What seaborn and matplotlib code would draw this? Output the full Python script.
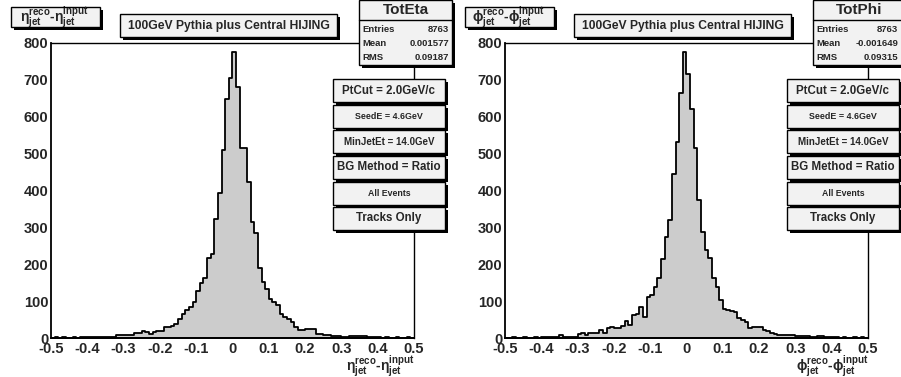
import numpy as np
import pandas as pd
import matplotlib
matplotlib.use("Agg")
import matplotlib.pyplot as plt
import seaborn as sns
from matplotlib.patches import Rectangle

# ---------------- data ----------------
n_bins = 100
x_range = (-0.5, 0.5)

eta_counts = [1, 2, 1, 2, 1, 1, 2, 1, 2, 2,
              3, 4, 4,
              3, 3, 3, 3, 3,
              7, 7, 7, 7, 7,
              13, 13, 19, 16, 12, 16, 19, 20, 29, 31, 32, 39, 52,
              64, 76, 85, 98, 128, 150, 162, 216, 229, 324, 392, 509, 647, 704, 775,
              681, 515, 515, 424, 315, 284, 189, 153, 132, 107, 98, 89, 64, 58, 51,
              44, 31, 22, 22, 24, 24, 24, 11, 11, 9, 9, 5, 5, 5, 4, 4, 5, 5, 5, 5, 5, 4, 4, 2,
              2, 1, 2, 1, 1, 2, 1, 1, 2, 1]

phi_counts = [1, 1, 2, 1, 1, 2, 1, 1, 2, 1,
              3, 3, 4, 4, 4, 7, 4, 4, 4, 4, 10, 13, 8, 14, 13, 13, 23, 14, 26, 29, 28, 28, 33, 46, 34, 62,
              64, 84, 58, 112, 117, 139, 162, 213, 275, 320, 446, 532, 665, 775, 717,
              622, 514, 374, 288, 238, 216, 162, 139, 103, 80, 76, 74, 71, 55, 50,
              44, 26, 29, 29, 31, 22, 19, 13, 10, 8, 8, 8, 8, 7, 5, 5, 5, 5, 3, 3, 5, 5, 3, 3, 3,
              2, 1, 2, 1, 1, 2, 1, 2, 1]

x_ticks = [-0.5, -0.4, -0.3, -0.2, -0.1, 0, 0.1, 0.2, 0.3, 0.4, 0.5]
x_tick_labels = ["-0.5", "-0.4", "-0.3", "-0.2", "-0.1", "0", "0.1", "0.2", "0.3", "0.4", "0.5"]
y_ticks = [0, 100, 200, 300, 400, 500, 600, 700, 800]

title_text = "100GeV Pythia plus Central HIJING"
eta_label = r"$\eta^{reco}_{jet}$-$\eta^{input}_{jet}$"
phi_label = r"$\phi^{reco}_{jet}$-$\phi^{input}_{jet}$"
stat_names = ["TotEta", "TotPhi"]
stat_entries = ["8763", "8763"]
stat_means = ["0.001577", "-0.001649"]
stat_rms = ["0.09187", "0.09315"]
cut_texts = ["PtCut = 2.0GeV/c", "SeedE = 4.6GeV", "MinJetEt = 14.0GeV",
             "BG Method = Ratio", "All Events", "Tracks Only"]

# ---------------- style ----------------
sns.set_style("white")
plt.rcParams["font.family"] = ["Liberation Sans", "DejaVu Sans"]
plt.rcParams["font.weight"] = "bold"
plt.rcParams["mathtext.fontset"] = "custom"
plt.rcParams["mathtext.rm"] = "Liberation Sans:bold"
plt.rcParams["mathtext.it"] = "Liberation Sans:bold"
plt.rcParams["mathtext.bf"] = "Liberation Sans:bold"
plt.rcParams["mathtext.default"] = "bf"

W, H = 901, 377
fig = plt.figure(figsize=(W / 100, H / 100), dpi=100)
fig.patch.set_facecolor("white")


def fx(x):
    return x / W


def fy(y):
    return 1 - y / H


def pave(x0, y0, x1, y1, shadow=3, fc="#f2f2f2"):
    fig.add_artist(Rectangle((fx(x0 + shadow), fy(y1 + shadow)), (x1 - x0) / W, (y1 - y0) / H,
                             transform=fig.transFigure, fc="black", ec="none", zorder=5))
    fig.add_artist(Rectangle((fx(x0), fy(y1)), (x1 - x0) / W, (y1 - y0) / H,
                             transform=fig.transFigure, fc=fc, ec="black", lw=1, zorder=6))


def ftext(x, y, s, size, ha="center", va="center"):
    fig.text(fx(x), fy(y), s, fontsize=size, fontweight="bold", ha=ha, va=va, zorder=7)


bin_width = (x_range[1] - x_range[0]) / n_bins
centers = x_range[0] + bin_width * (np.arange(n_bins) + 0.5)

panels = [
    dict(counts=eta_counts, label=eta_label, off=0, stat=0, val_x=449),
    dict(counts=phi_counts, label=phi_label, off=454, stat=1, val_x=898),
]

for p in panels:
    off = p["off"]
    ax_l, ax_r, ax_t, ax_b = 51 + off, 414 + off, 43, 338
    ax = fig.add_axes([fx(ax_l), fy(ax_b), (ax_r - ax_l) / W, (ax_b - ax_t) / H])
    df = pd.DataFrame({"x": centers, "w": np.asarray(p["counts"], dtype=float)})
    sns.histplot(data=df, x="x", weights="w", bins=n_bins, binrange=x_range,
                 element="step", fill=True,
                 color="#cccccc", edgecolor="black", linewidth=1.3, alpha=1, ax=ax)
    ax.set_xlim(*x_range)
    ax.set_ylim(0, 800)
    ax.set_xlabel("")
    ax.set_ylabel("")
    ax.set_xticks(x_ticks)
    ax.set_xticklabels(x_tick_labels)
    ax.set_yticks(y_ticks)
    ax.set_xticks(np.arange(-0.5, 0.501, 0.02), minor=True)
    ax.set_yticks(np.arange(0, 801, 20), minor=True)
    ax.tick_params(axis="both", which="major", direction="in", length=7.5, width=1,
                   labelsize=10.5, pad=2, top=False, right=False)
    ax.tick_params(axis="both", which="minor", direction="in", length=3.8, width=1,
                   top=False, right=False)
    ax.tick_params(axis="x", which="major", pad=3)
    for lab in ax.get_xticklabels() + ax.get_yticklabels():
        lab.set_fontweight("bold")
    for s in ["left", "bottom"]:
        ax.spines[s].set_linewidth(1.3)
    for s in ["top", "right"]:
        ax.spines[s].set_linewidth(1)
    for s in ax.spines.values():
        s.set_color("black")

    # axis title at bottom right
    fig.text(fx(414 + off), fy(353), p["label"], fontsize=10, ha="right", va="top")

    # y title box
    pave(11 + off, 7, 100 + off, 27)
    fig.text(fx(54 + off), fy(17.5), p["label"], fontsize=10, ha="center", va="center", zorder=7)

    # main title box
    pave(120 + off, 14, 337 + off, 37)
    ftext(229 + off, 25.5, title_text, 8.7)

    # stats box
    k = p["stat"]
    pave(359 + off, 0, 452 + off, 65, shadow=3)
    fig.add_artist(plt.Line2D([fx(359 + off), fx(452 + off)], [fy(20), fy(20)],
                              transform=fig.transFigure, color="black", lw=1, zorder=7))
    ftext(405.5 + off, 9.5, stat_names[k], 11)
    vx = p["val_x"]
    ftext(362 + off, 30, "Entries", 6.8, ha="left")
    ftext(vx, 30, stat_entries[k], 6.8, ha="right")
    ftext(362 + off, 44, "Mean", 6.8, ha="left")
    ftext(vx, 44, stat_means[k], 6.8, ha="right")
    ftext(362 + off, 58, "RMS", 6.8, ha="left")
    ftext(vx, 58, stat_rms[k], 6.8, ha="right")

    # cut boxes
    tops = [79, 105, 130, 156, 182, 207]
    sizes = [8.3, 6.4, 7.0, 8.3, 6.3, 8.3]
    for t, txt, sz in zip(tops, cut_texts, sizes):
        pave(333 + off, t, 445 + off, t + 23, shadow=3)
        ftext(389 + off, t + 11.5, txt, sz)

fig.savefig("out.png", dpi=100)
